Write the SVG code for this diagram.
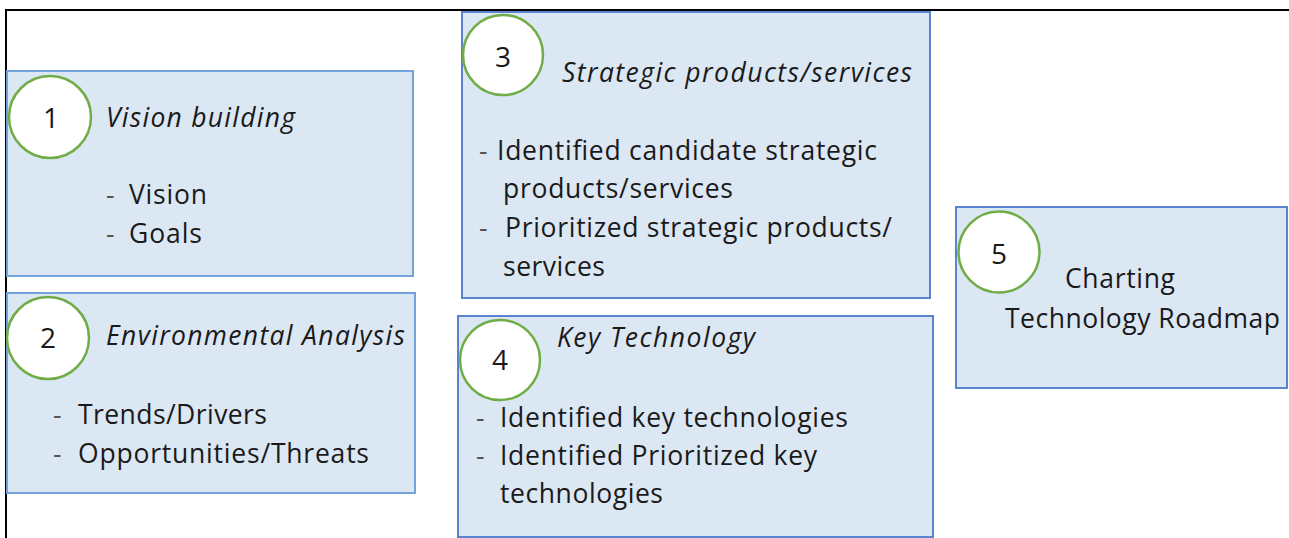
<svg xmlns="http://www.w3.org/2000/svg" width="1289" height="538" viewBox="0 0 1289 538">
<style>
.box1{fill:#dce7f4;stroke:#74a3dc;stroke-width:2}
.box2{fill:#dce7f4;stroke:#5b83d0;stroke-width:2}
.num{fill:#fff;stroke:#70ad47;stroke-width:2.5}
text{font-family:"Open Sans","Liberation Sans",Arial,sans-serif;fill:#1a1a1a;font-size:26.5px}
.ttl{font-style:italic}
.n{text-anchor:middle;font-size:28px}
.d{fill:#555}
</style>
<rect x="0" y="0" width="1289" height="538" fill="#fff"/>
<g id="frame" stroke="#000" stroke-width="2" fill="none">
<path d="M6,538 V10 H1289"/>
</g>
<g id="connectors"></g>
<g id="node1">
<rect class="box1" x="7" y="71" width="406" height="205"/>
<circle class="num" cx="50" cy="117" r="41"/>
<text class="n" x="51" y="128">1</text>
<text class="ttl" x="106" y="127" textLength="189" lengthAdjust="spacing">Vision building</text>
<text class="d" x="106" y="204">-</text>
<text x="129" y="204" textLength="78" lengthAdjust="spacing">Vision</text>
<text class="d" x="106" y="243">-</text>
<text x="129" y="243" textLength="73" lengthAdjust="spacing">Goals</text>
</g>
<g id="node2">
<rect class="box1" x="7" y="293" width="408" height="200"/>
<circle class="num" cx="48" cy="338" r="41"/>
<text class="n" x="48" y="348">2</text>
<text class="ttl" x="106" y="345" textLength="299" lengthAdjust="spacing">Environmental Analysis</text>
<text class="d" x="53" y="424">-</text>
<text x="78" y="424" textLength="189" lengthAdjust="spacing">Trends/Drivers</text>
<text class="d" x="53" y="463">-</text>
<text x="78" y="463" textLength="291" lengthAdjust="spacing">Opportunities/Threats</text>
</g>
<g id="node3">
<rect class="box2" x="462" y="12" width="468" height="286"/>
<circle class="num" cx="503" cy="55" r="40"/>
<text class="n" x="503" y="67">3</text>
<text class="ttl" x="562" y="82" textLength="350" lengthAdjust="spacing">Strategic products/services</text>
<text class="d" x="479" y="160">-</text>
<text x="497" y="160" textLength="380" lengthAdjust="spacing">Identified candidate strategic</text>
<text x="503" y="198" textLength="230" lengthAdjust="spacing">products/services</text>
<text class="d" x="479" y="237">-</text>
<text x="505" y="237" textLength="387" lengthAdjust="spacing">Prioritized strategic products/</text>
<text x="503" y="276" textLength="102" lengthAdjust="spacing">services</text>
</g>
<g id="node4">
<rect class="box2" x="458" y="316" width="475" height="221"/>
<circle class="num" cx="500" cy="360" r="40"/>
<text class="n" x="500" y="370">4</text>
<text class="ttl" x="557" y="347" textLength="198" lengthAdjust="spacing">Key Technology</text>
<text class="d" x="476" y="427">-</text>
<text x="500" y="427" textLength="348" lengthAdjust="spacing">Identified key technologies</text>
<text class="d" x="476" y="465">-</text>
<text x="500" y="465" textLength="317" lengthAdjust="spacing">Identified Prioritized key</text>
<text x="500" y="503" textLength="163" lengthAdjust="spacing">technologies</text>
</g>
<g id="node5">
<rect class="box2" x="956" y="207" width="331" height="181"/>
<circle class="num" cx="999" cy="252" r="40.5"/>
<text class="n" x="999" y="264">5</text>
<text x="1065" y="288" textLength="110" lengthAdjust="spacing">Charting</text>
<text x="1005" y="328" textLength="275" lengthAdjust="spacing">Technology Roadmap</text>
</g>
</svg>
